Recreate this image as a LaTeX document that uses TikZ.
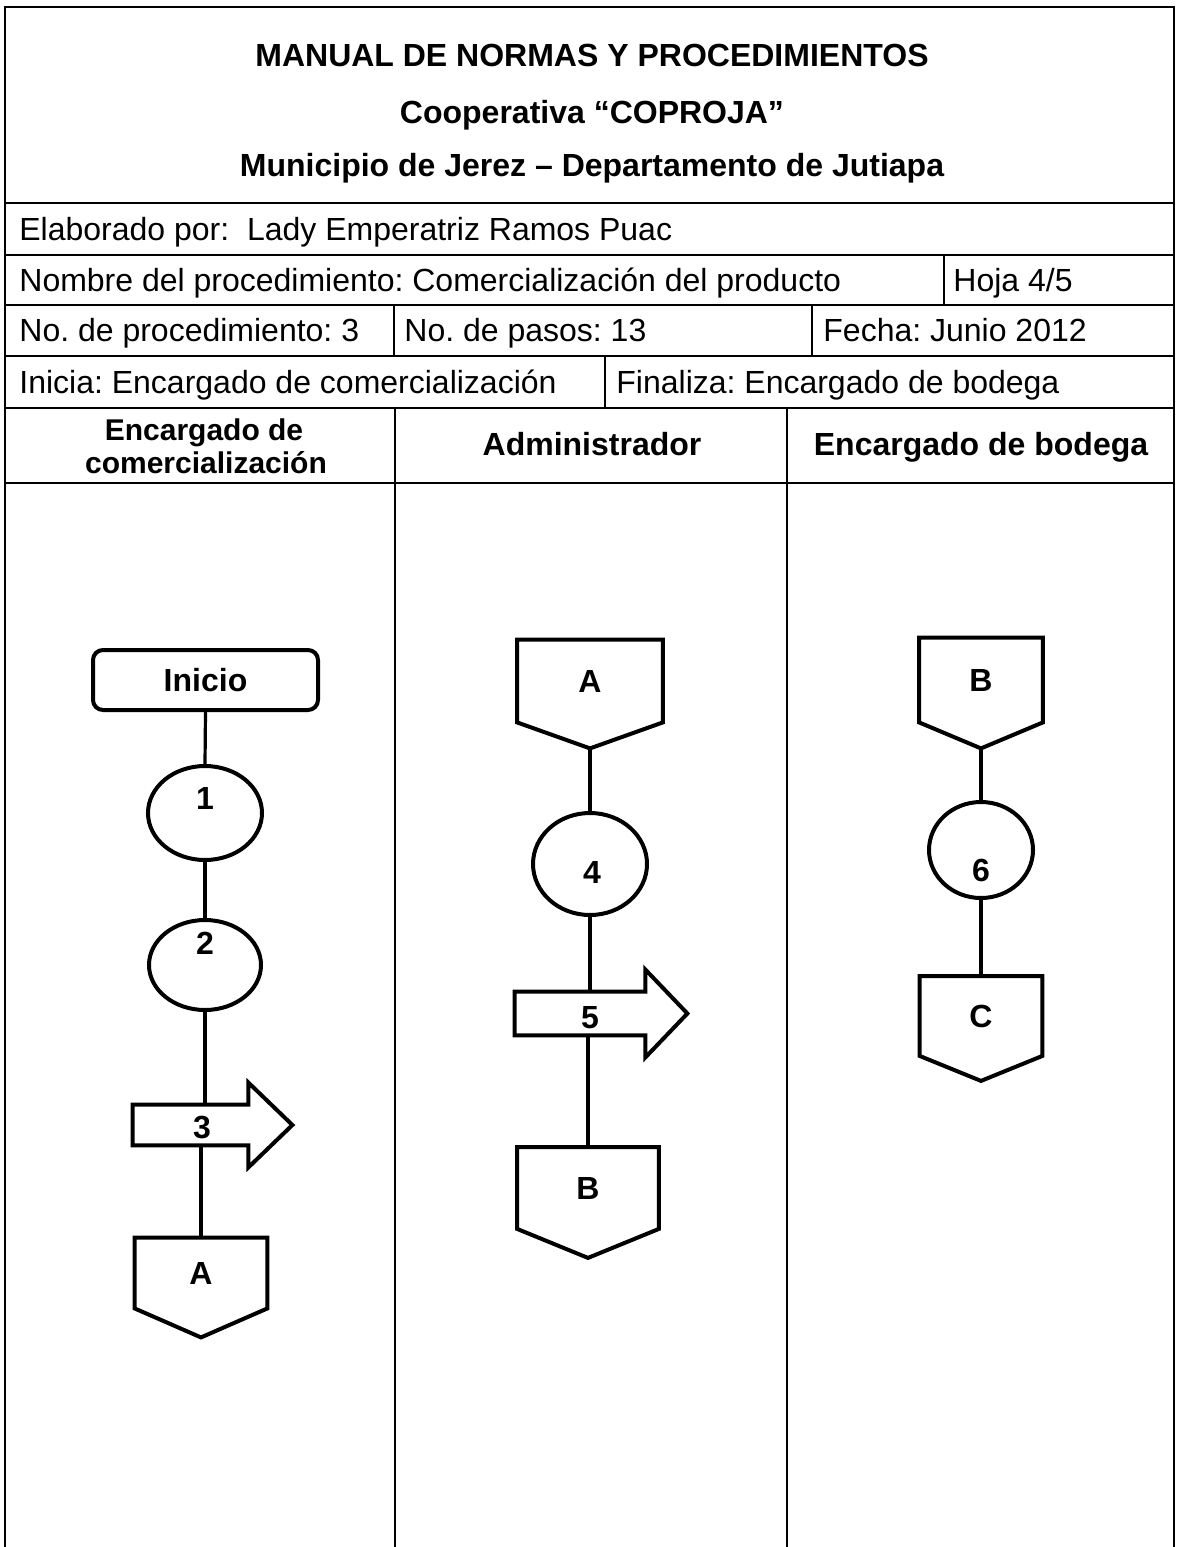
\documentclass[tikz,border=0pt]{standalone}
\usepackage{fontspec}
\setmainfont{Liberation Sans}
\usetikzlibrary{shapes.geometric,calc}
\frenchspacing
\begin{document}
\begin{tikzpicture}[x=0.5pt,y=-0.5pt,
  grid/.style={line width=1.1pt},
  shp/.style={line width=2pt, line join=miter},
  conn/.style={line width=1.6pt},
  txt/.style={inner sep=0pt, font=\fontsize{16}{19}\selectfont, text height=11.5pt, text depth=0pt},
  rowtxt/.style={txt, anchor=west},
  btxt/.style={txt, font=\fontsize{16}{19}\selectfont\bfseries},
  hdrsmall/.style={inner sep=0pt, font=\fontsize{15}{18}\selectfont\bfseries, text height=10.8pt, text depth=0pt},
  circ/.style={ellipse, draw, shp, inner sep=0pt},
  startbox/.style={rectangle, rounded corners=5pt, draw, shp, inner sep=0pt, minimum width=112.5pt, minimum height=30pt, btxt},
  opnode/.style={rectangle, draw=none, inner sep=0pt, btxt},
  arrbody/.style={rectangle, draw=none, inner sep=0pt}
]
\fill[white] (0,0) rectangle (1179,1547);
\useasboundingbox (0,0) rectangle (1179,1547);

% ---------- table grid ----------
\draw[grid] (5,1547) -- (5,7) -- (1174,7) -- (1174,1547);
\foreach \yy in {203,255,305,356,408,483} \draw[grid] (5,\yy) -- (1174,\yy);
\draw[grid] (944,255) -- (944,305);
\draw[grid] (394,305) -- (394,356);
\draw[grid] (812,305) -- (812,356);
\draw[grid] (605,356) -- (605,408);
\draw[grid] (395,408) -- (395,1547);
\draw[grid] (787,408) -- (787,1547);

% ---------- title ----------
\node[btxt] (t1) at (592,55) {MANUAL DE NORMAS Y PROCEDIMIENTOS};
\node[btxt] (t2) at (592,112) {Cooperativa “COPROJA”};
\node[btxt] (t3) at (592,165) {Municipio de Jerez -- Departamento de Jutiapa};

% ---------- rows ----------
\node[rowtxt] (r1) at (19,229) {Elaborado por:\ \ Lady Emperatriz Ramos Puac};
\node[rowtxt] (r2) at (19,280) {Nombre del procedimiento: Comercialización del producto};
\node[rowtxt] (r2b) at (953,280) {Hoja 4/5};
\node[rowtxt] (r3) at (19,330) {No. de procedimiento: 3};
\node[rowtxt] (r3b) at (404,330) {No. de pasos: 13};
\node[rowtxt] (r3c) at (823,330) {Fecha: Junio 2012};
\node[rowtxt] (r4) at (19,382) {Inicia: Encargado de comercialización};
\node[rowtxt] (r4b) at (616,382) {Finaliza: Encargado de bodega};

% ---------- lane headers ----------
\node[hdrsmall] (h1a) at (204,430) {Encargado de};
\node[hdrsmall] (h1b) at (206,463) {comercialización};
\node[btxt] (h2) at (592,444) {Administrador};
\node[btxt] (h3) at (981,444) {Encargado de bodega};

% ---------- lane 1 ----------
\node[startbox] (ini) at (205.5,680) {Inicio};
\node[circ, minimum width=57pt, minimum height=47pt] (c1) at (205,813) {};
\node[btxt] (n1) at (205,798) {1};
\node[circ, minimum width=56pt, minimum height=45pt] (c2) at (205,965) {};
\node[btxt] (n2) at (205,943) {2};
\node[arrbody, minimum width=57.5pt, minimum height=20pt] (a3) at (190.5,1125) {};
\draw[shp] (a3.north west) -- (a3.north east) -- ++(0,-22) -- ($(a3.east)+(44,0)$)
  -- ($(a3.south east)+(0,22)$) -- (a3.south east) -- (a3.south west) -- cycle;
\node[btxt] (n3) at (202,1127) {3};
\node[opnode, minimum width=66pt, minimum height=35pt] (A1) at (201,1273) {A};
\draw[shp] (A1.north west) -- (A1.north east) -- (A1.south east) -- ($(A1.south)+(0,29)$) -- (A1.south west) -- cycle;

\draw[conn] (ini.south) -- (c1.north);
\draw[conn] (c1.south) -- (c2.north);
\draw[conn] (c2.south) -- (c2.south |- a3.north);
\draw[conn] (A1.north |- a3.south) -- (A1.north);

% ---------- lane 2 ----------
\node[opnode, minimum width=72.5pt, minimum height=41pt] (A2) at (590,681) {A};
\draw[shp] (A2.north west) -- (A2.north east) -- (A2.south east) -- ($(A2.south)+(0,26)$) -- (A2.south west) -- cycle;
\coordinate (A2p) at ($(A2.south)+(0,26)$);
\node[circ, minimum width=57pt, minimum height=51pt] (c4) at (590,864) {};
\node[btxt] (n4) at (592,872) {4};
\node[arrbody, minimum width=65pt, minimum height=21.5pt] (a5) at (580,1013.5) {};
\draw[shp] (a5.north west) -- (a5.north east) -- ++(0,-22) -- ($(a5.east)+(42,0)$)
  -- ($(a5.south east)+(0,22)$) -- (a5.south east) -- (a5.south west) -- cycle;
\node[btxt] (n5) at (590,1017) {5};
\node[opnode, minimum width=70.5pt, minimum height=40.5pt] (B2) at (588,1188) {B};
\draw[shp] (B2.north west) -- (B2.north east) -- (B2.south east) -- ($(B2.south)+(0,29)$) -- (B2.south west) -- cycle;

\draw[conn] (A2p) -- (c4.north);
\draw[conn] (c4.south) -- (c4.south |- a5.north);
\draw[conn] (B2.north |- a5.south) -- (B2.north);

% ---------- lane 3 ----------
\node[opnode, minimum width=61.5pt, minimum height=42pt] (B3) at (981,680) {B};
\draw[shp] (B3.north west) -- (B3.north east) -- (B3.south east) -- ($(B3.south)+(0,26)$) -- (B3.south west) -- cycle;
\coordinate (B3p) at ($(B3.south)+(0,26)$);
\node[circ, minimum width=52pt, minimum height=48pt] (c6) at (981,850) {};
\node[btxt] (n6) at (981,870) {6};
\node[opnode, minimum width=61pt, minimum height=39.5pt] (C3) at (981,1016) {C};
\draw[shp] (C3.north west) -- (C3.north east) -- (C3.south east) -- ($(C3.south)+(0,25)$) -- (C3.south west) -- cycle;

\draw[conn] (B3p) -- (c6.north);
\draw[conn] (c6.south) -- (C3.north);
\end{tikzpicture}
\end{document}
